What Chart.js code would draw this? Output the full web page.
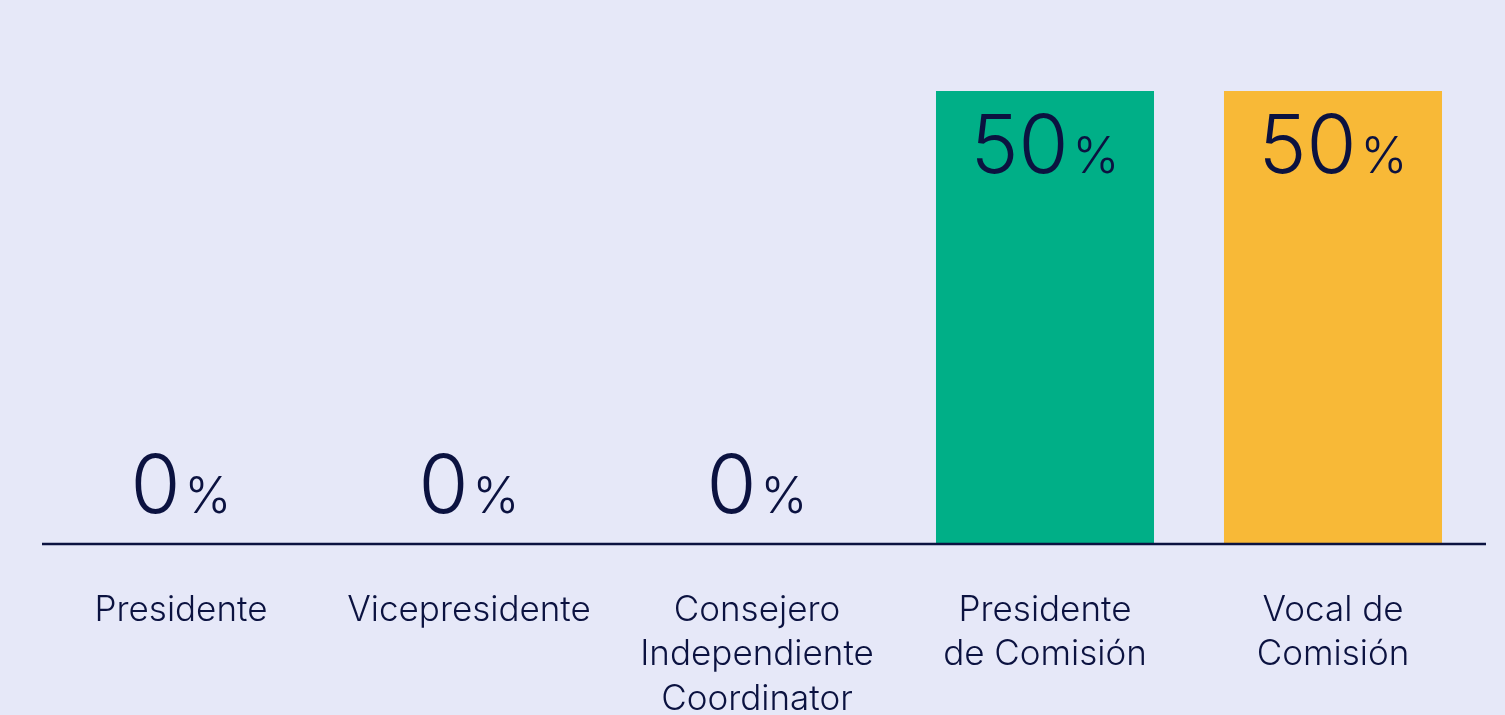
<!DOCTYPE html>
<html><head><meta charset="utf-8">
<script src="https://cdn.jsdelivr.net/npm/chart.js@4.4.1/dist/chart.umd.min.js"></script>
<style>html,body{margin:0;padding:0;background:#E6E8F8;}canvas{display:block;}</style>
</head><body>
<canvas id="c" width="1505" height="715"></canvas>
<script>
const categories = [["Presidente"],["Vicepresidente"],["Consejero","Independiente","Coordinator"],["Presidente","de Comisión"],["Vocal de","Comisión"]];
const values = [0, 0, 0, 50, 50];
const barColors = ["#00AF87","#00AF87","#00AF87","#00AF87","#F8B937"];
const NAVY = "#0B1240";
const FONT = "Inter, 'Open Sans', sans-serif";

const labelsPlugin = {
  id: 'vals',
  afterDatasetsDraw(chart) {
    const ctx = chart.ctx;
    const meta = chart.getDatasetMeta(0);
    const area = chart.chartArea;
    ctx.save();
    ctx.strokeStyle = NAVY; ctx.lineWidth = 2.5;
    ctx.beginPath(); ctx.moveTo(42, area.bottom + 1); ctx.lineTo(1486, area.bottom + 1); ctx.stroke();
    ctx.fillStyle = NAVY; ctx.textBaseline = 'alphabetic';
    meta.data.forEach((bar, i) => {
      const v = values[i];
      const num = String(v);
      ctx.font = "300 81px " + FONT;
      const w1 = ctx.measureText(num).width;
      ctx.font = "300 50px " + FONT;
      const w2 = ctx.measureText("%").width;
      const gap = 4;
      const total = w1 + gap + w2;
      const x0 = bar.x - total / 2;
      const y = v > 0 ? bar.y + 82 : area.bottom - 30;
      ctx.textAlign = 'left';
      ctx.font = "300 81px " + FONT;
      ctx.fillText(num, x0, y);
      ctx.font = "300 50px " + FONT;
      ctx.fillText("%", x0 + w1 + gap, y);
    });
    ctx.restore();
  }
};

new Chart(document.getElementById('c'), {
  type: 'bar',
  data: { labels: categories, datasets: [{ data: values, backgroundColor: barColors, borderWidth: 0, barPercentage: 0.757, categoryPercentage: 1 }] },
  options: {
    responsive: false, animation: false,
    layout: { padding: { left: 37, right: 28, top: 91, bottom: 0 } },
    plugins: { legend: { display: false }, tooltip: { enabled: false } },
    scales: {
      x: { grid: { display: false }, border: { display: false },
           afterFit(scale) { scale.height = 172; },
           ticks: { color: NAVY, font: { family: FONT, size: 35, weight: 300, lineHeight: 1.27 }, padding: 37, maxRotation: 0, autoSkip: false } },
      y: { display: false, min: 0, max: 50 }
    }
  },
  plugins: [labelsPlugin]
});
</script>
</body></html>
